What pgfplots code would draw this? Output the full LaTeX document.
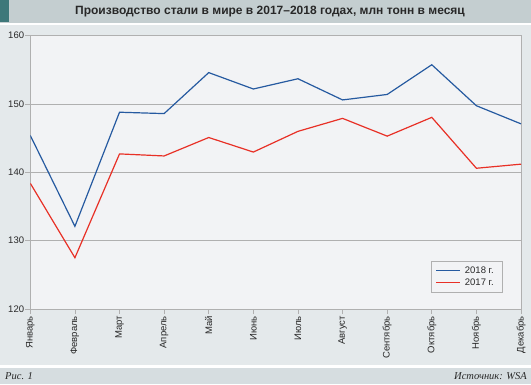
\documentclass[border=0pt]{standalone}
\usepackage{pgfplots}
\pgfplotsset{compat=1.18}
\usepackage{fontspec}
\setmainfont{Liberation Sans}
\newfontfamily\capfont{Liberation Serif}
\definecolor{titlebg}{RGB}{196,206,208}
\definecolor{tealsq}{RGB}{62,120,122}
\definecolor{panelbg}{RGB}{228,233,235}
\definecolor{plotbg}{RGB}{242,243,245}
\definecolor{capbg}{RGB}{214,221,224}
\definecolor{gridgray}{RGB}{176,176,176}
\definecolor{txt}{RGB}{40,40,40}
\definecolor{ser18}{RGB}{38,90,160}
\definecolor{ser17}{RGB}{232,48,38}
\begin{document}
\begin{tikzpicture}
\path[use as bounding box] (0pt,0pt) rectangle (531pt,384pt);
\fill[white] (0pt,0pt) rectangle (531pt,384pt);
\fill[titlebg] (0pt,361pt) rectangle (531pt,384pt);
\fill[tealsq] (0pt,361.7pt) rectangle (9pt,384pt);
\fill[panelbg] (0pt,19.5pt) rectangle (531pt,359pt);
\fill[capbg] (0pt,0pt) rectangle (531pt,16.5pt);
\node[text=txt, font=\bfseries\fontsize{12}{14}\selectfont] at (270pt,372.5pt) {Производство стали в мире в 2017–2018 годах, млн тонн в месяц};
\node[text=txt, font=\capfont\itshape\fontsize{10.5}{12}\selectfont, anchor=west, inner sep=0pt] at (5pt,8pt) {Рис. 1};
\node[text=txt, font=\capfont\itshape\fontsize{10.5}{12}\selectfont, anchor=east, inner sep=0pt] at (527pt,8pt) {Источник: WSA};
\begin{axis}[
  at={(30.3pt,75pt)}, anchor=south west,
  scale only axis, width=490.7pt, height=273.3pt,
  xmin=0, xmax=11, ymin=120, ymax=160,
  xtick={0,...,11},
  xticklabels={Январь,Февраль,Март,Апрель,Май,Июнь,Июль,Август,Сентябрь,Октябрь,Ноябрь,Декабрь},
  ytick={120,130,140,150,160},
  xtick pos=bottom, ytick pos=left,
  tick align=outside, major tick length=5pt,
  tick style={gridgray, line width=0.6pt},
  axis line style={gridgray, line width=0.8pt},
  axis background/.style={fill=plotbg},
  ymajorgrids, grid style={gridgray, line width=0.6pt},
  /pgf/number format/assume math mode=true,
  xticklabel style={rotate=90, anchor=east, inner sep=2pt, text=txt, font=\fontsize{9.5}{11}\selectfont},
  yticklabel style={inner sep=1pt, text=txt, font=\fontsize{9.5}{11}\selectfont},
  legend style={at={(0.963,0.062)}, anchor=south east, draw=gridgray, fill=plotbg,
    font=\fontsize{9.5}{11}\selectfont, text=txt, inner xsep=5pt, inner ysep=3pt, row sep=0pt,
    nodes={inner xsep=4pt}},
  legend cell align=left,
  legend image code/.code={\draw[#1] (0pt,0pt) -- (24pt,0pt);},
]
\addplot[ser18, line width=1.2pt] coordinates {
(0,145.4) (1,132.1) (2,148.8) (3,148.6) (4,154.6) (5,152.2) (6,153.7) (7,150.6) (8,151.4) (9,155.75) (10,149.75) (11,147.1)};
\addlegendentry{2018 г.}
\addplot[ser17, line width=1.2pt] coordinates {
(0,138.4) (1,127.5) (2,142.7) (3,142.4) (4,145.1) (5,142.97) (6,146.0) (7,147.9) (8,145.3) (9,148.05) (10,140.6) (11,141.2)};
\addlegendentry{2017 г.}
\end{axis}
\end{tikzpicture}
\end{document}
